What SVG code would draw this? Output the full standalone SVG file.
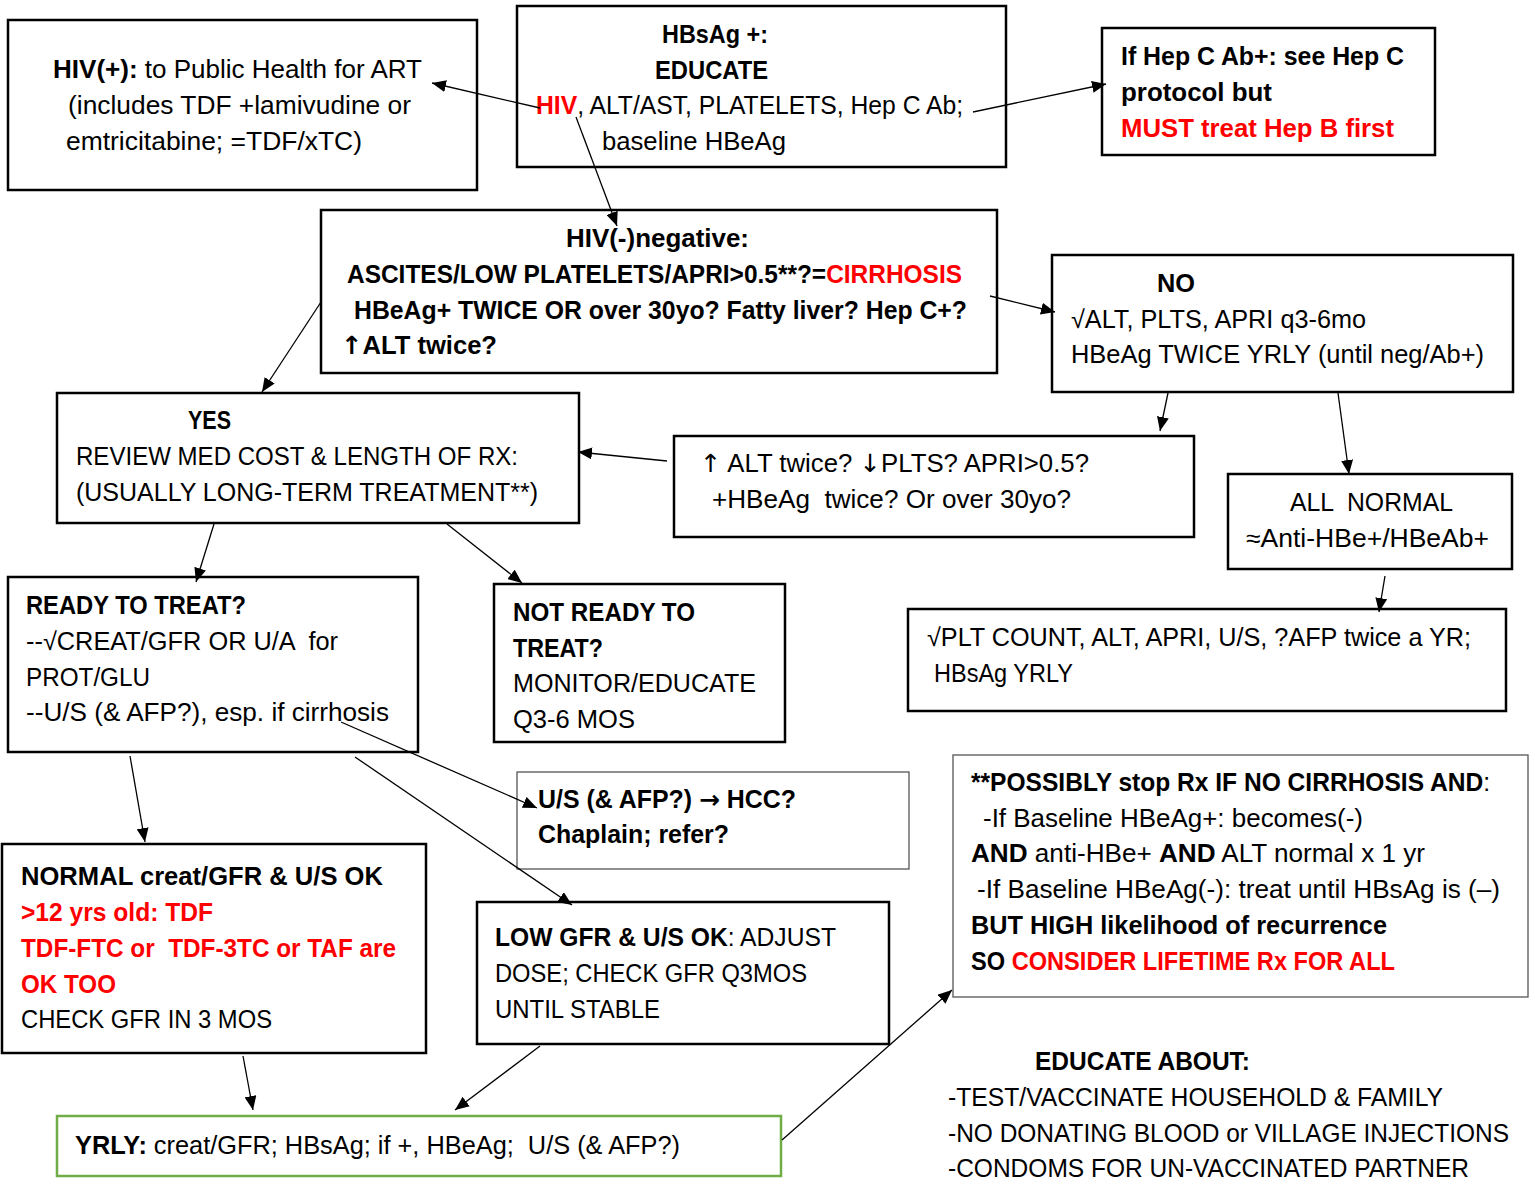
<svg xmlns="http://www.w3.org/2000/svg" width="1535" height="1184" viewBox="0 0 1535 1184">
<style>
text{font-family:"Liberation Sans",Arial,sans-serif;font-size:25px;fill:#000}
.b{font-weight:bold}
.n{font-weight:normal}
.r{fill:#ff0000}
.ar{font-family:"DejaVu Sans",sans-serif}
.box{fill:#fff;stroke:#000;stroke-width:2.5}
.thin{fill:#fff;stroke:#555;stroke-width:1.3}
.green{fill:#fff;stroke:#70ad47;stroke-width:2.5}
.c{stroke:#000;stroke-width:1.3;fill:none;marker-end:url(#ah)}
</style>
<defs>
<marker id="ah" markerUnits="userSpaceOnUse" markerWidth="15" markerHeight="12" refX="14" refY="6" orient="auto">
<path d="M0,0 L14,6 L0,12 z" fill="#000"/>
</marker>
</defs>
<rect width="1535" height="1184" fill="#fff"/>

<g id="hivpos">
<rect class="box" x="8" y="20" width="469" height="170"/>
<text x="53" y="78" textLength="369" lengthAdjust="spacingAndGlyphs"><tspan class="b">HIV(+):</tspan> to Public Health for ART</text>
<text x="68" y="114" textLength="343" lengthAdjust="spacingAndGlyphs">(includes TDF +lamivudine or</text>
<text x="66" y="150" textLength="296" lengthAdjust="spacingAndGlyphs">emtricitabine; =TDF/xTC)</text>
</g>

<g id="hbsag">
<rect class="box" x="517" y="6" width="489" height="161"/>
<text class="b" x="662" y="43" textLength="106" lengthAdjust="spacingAndGlyphs">HBsAg +:</text>
<text class="b" x="655" y="79" textLength="113" lengthAdjust="spacingAndGlyphs">EDUCATE</text>
<text x="536" y="114" textLength="427" lengthAdjust="spacingAndGlyphs"><tspan class="b r">HIV</tspan>, ALT/AST, PLATELETS, Hep C Ab;</text>
<text x="602" y="150" textLength="184" lengthAdjust="spacingAndGlyphs">baseline HBeAg</text>
</g>

<g id="hepc">
<rect class="box" x="1102" y="28" width="333" height="127"/>
<text class="b" x="1121" y="65" textLength="283" lengthAdjust="spacingAndGlyphs">If Hep C Ab+: see Hep C</text>
<text class="b" x="1121" y="101" textLength="151" lengthAdjust="spacingAndGlyphs">protocol but</text>
<text class="b r" x="1121" y="137" textLength="273" lengthAdjust="spacingAndGlyphs">MUST treat Hep B first</text>
</g>

<g id="hivneg">
<rect class="box" x="321" y="210" width="676" height="163"/>
<text class="b" x="566" y="247" textLength="183" lengthAdjust="spacingAndGlyphs">HIV(-)negative:</text>
<text class="b" x="347" y="283" textLength="615" lengthAdjust="spacingAndGlyphs">ASCITES/LOW PLATELETS/APRI&gt;0.5**?=<tspan class="r">CIRRHOSIS</tspan></text>
<text class="b" x="354" y="319" textLength="613" lengthAdjust="spacingAndGlyphs">HBeAg+ TWICE OR over 30yo? Fatty liver? Hep C+?</text>
<text class="b" x="341" y="354" textLength="156" lengthAdjust="spacingAndGlyphs"><tspan class="ar">↑</tspan>ALT twice?</text>
</g>

<g id="no">
<rect class="box" x="1052" y="255" width="461" height="137"/>
<text class="b" x="1157" y="292" textLength="38" lengthAdjust="spacingAndGlyphs">NO</text>
<text x="1071" y="328" textLength="295" lengthAdjust="spacingAndGlyphs">√ALT, PLTS, APRI q3-6mo</text>
<text x="1071" y="363" textLength="413" lengthAdjust="spacingAndGlyphs">HBeAg TWICE YRLY (until neg/Ab+)</text>
</g>

<g id="yes">
<rect class="box" x="57" y="393" width="522" height="130"/>
<text class="b" x="188" y="429" textLength="43" lengthAdjust="spacingAndGlyphs">YES</text>
<text x="76" y="465" textLength="442" lengthAdjust="spacingAndGlyphs">REVIEW MED COST &amp; LENGTH OF RX:</text>
<text x="76" y="501" textLength="462" lengthAdjust="spacingAndGlyphs">(USUALLY LONG-TERM TREATMENT**)</text>
</g>

<g id="altcheck">
<rect class="box" x="674" y="436" width="520" height="101"/>
<text x="700" y="472" textLength="389" lengthAdjust="spacingAndGlyphs"><tspan class="ar">↑</tspan> ALT twice? <tspan class="ar">↓</tspan>PLTS? APRI&gt;0.5?</text>
<text x="712" y="508" textLength="359" lengthAdjust="spacingAndGlyphs" xml:space="preserve">+HBeAg  twice? Or over 30yo?</text>
</g>

<g id="allnormal">
<rect class="box" x="1228" y="474" width="284" height="95"/>
<text x="1290" y="511" textLength="163" lengthAdjust="spacingAndGlyphs" xml:space="preserve">ALL  NORMAL</text>
<text x="1246" y="547" textLength="243" lengthAdjust="spacingAndGlyphs">≈Anti-HBe+/HBeAb+</text>
</g>

<g id="ready">
<rect class="box" x="8" y="577" width="410" height="175"/>
<text class="b" x="26" y="614" textLength="220" lengthAdjust="spacingAndGlyphs">READY TO TREAT?</text>
<text x="26" y="650" textLength="312" lengthAdjust="spacingAndGlyphs" xml:space="preserve">--√CREAT/GFR OR U/A  for</text>
<text x="26" y="686" textLength="124" lengthAdjust="spacingAndGlyphs">PROT/GLU</text>
<text x="26" y="721" textLength="363" lengthAdjust="spacingAndGlyphs">--U/S (&amp; AFP?), esp. if cirrhosis</text>
</g>

<g id="notready">
<rect class="box" x="494" y="584" width="291" height="158"/>
<text class="b" x="513" y="621" textLength="182" lengthAdjust="spacingAndGlyphs">NOT READY TO</text>
<text class="b" x="513" y="657" textLength="90" lengthAdjust="spacingAndGlyphs">TREAT?</text>
<text x="513" y="692" textLength="243" lengthAdjust="spacingAndGlyphs">MONITOR/EDUCATE</text>
<text x="513" y="728" textLength="122" lengthAdjust="spacingAndGlyphs">Q3-6 MOS</text>
</g>

<g id="pltcount">
<rect class="box" x="908" y="609" width="598" height="102"/>
<text x="927" y="646" textLength="544" lengthAdjust="spacingAndGlyphs">√PLT COUNT, ALT, APRI, U/S, ?AFP twice a YR;</text>
<text x="934" y="682" textLength="139" lengthAdjust="spacingAndGlyphs">HBsAg YRLY</text>
</g>

<g id="hcc">
<rect class="thin" x="517" y="772" width="392" height="97"/>
<text class="b" x="538" y="808" textLength="258" lengthAdjust="spacingAndGlyphs">U/S (&amp; AFP?) <tspan class="ar">→</tspan> HCC?</text>
<text class="b" x="538" y="843" textLength="191" lengthAdjust="spacingAndGlyphs">Chaplain; refer?</text>
</g>

<g id="possibly">
<rect class="thin" x="953" y="755" width="575" height="242"/>
<text class="b" x="971" y="791" textLength="519" lengthAdjust="spacingAndGlyphs">**POSSIBLY stop Rx IF NO CIRRHOSIS AND<tspan class="n">:</tspan></text>
<text x="983" y="827" textLength="380" lengthAdjust="spacingAndGlyphs">-If Baseline HBeAg+: becomes(-)</text>
<text x="971" y="862" textLength="454" lengthAdjust="spacingAndGlyphs"><tspan class="b">AND</tspan> anti-HBe+ <tspan class="b">AND</tspan> ALT normal x 1 yr</text>
<text x="977" y="898" textLength="523" lengthAdjust="spacingAndGlyphs">-If Baseline HBeAg(-): treat until HBsAg is (–)</text>
<text class="b" x="971" y="934" textLength="416" lengthAdjust="spacingAndGlyphs">BUT HIGH likelihood of recurrence</text>
<text class="b" x="971" y="970" textLength="424" lengthAdjust="spacingAndGlyphs">SO <tspan class="r">CONSIDER LIFETIME Rx FOR ALL</tspan></text>
</g>

<g id="normal">
<rect class="box" x="2" y="844" width="424" height="209"/>
<text class="b" x="21" y="885" textLength="362" lengthAdjust="spacingAndGlyphs">NORMAL creat/GFR &amp; U/S OK</text>
<text class="b r" x="21" y="921" textLength="192" lengthAdjust="spacingAndGlyphs">&gt;12 yrs old: TDF</text>
<text class="b r" x="21" y="957" textLength="375" lengthAdjust="spacingAndGlyphs" xml:space="preserve">TDF-FTC or  TDF-3TC or TAF are</text>
<text class="b r" x="21" y="993" textLength="95" lengthAdjust="spacingAndGlyphs">OK TOO</text>
<text x="21" y="1028" textLength="251" lengthAdjust="spacingAndGlyphs">CHECK GFR IN 3 MOS</text>
</g>

<g id="lowgfr">
<rect class="box" x="477" y="902" width="412" height="142"/>
<text x="495" y="946" textLength="341" lengthAdjust="spacingAndGlyphs"><tspan class="b">LOW GFR &amp; U/S OK</tspan>: ADJUST</text>
<text x="495" y="982" textLength="312" lengthAdjust="spacingAndGlyphs">DOSE; CHECK GFR Q3MOS</text>
<text x="495" y="1018" textLength="165" lengthAdjust="spacingAndGlyphs">UNTIL STABLE</text>
</g>

<g id="yrly">
<rect class="green" x="57" y="1116" width="724" height="60"/>
<text x="75" y="1154" textLength="605" lengthAdjust="spacingAndGlyphs" xml:space="preserve"><tspan class="b">YRLY:</tspan> creat/GFR; HBsAg; if +, HBeAg;  U/S (&amp; AFP?)</text>
</g>

<g id="educate">
<text class="b" x="1035" y="1070" textLength="215" lengthAdjust="spacingAndGlyphs">EDUCATE ABOUT:</text>
<text x="948" y="1106" textLength="495" lengthAdjust="spacingAndGlyphs">-TEST/VACCINATE HOUSEHOLD &amp; FAMILY</text>
<text x="948" y="1142" textLength="561" lengthAdjust="spacingAndGlyphs">-NO DONATING BLOOD or VILLAGE INJECTIONS</text>
<text x="948" y="1177" textLength="521" lengthAdjust="spacingAndGlyphs">-CONDOMS FOR UN-VACCINATED PARTNER</text>
</g>

<g id="connectors">
<line class="c" x1="540" y1="108" x2="432" y2="83"/>
<line class="c" x1="973" y1="112" x2="1106" y2="84"/>
<line class="c" x1="576" y1="117" x2="617" y2="226"/>
<line class="c" x1="321" y1="302" x2="262" y2="392"/>
<line class="c" x1="990" y1="296" x2="1055" y2="312"/>
<line class="c" x1="1168" y1="393" x2="1160" y2="431"/>
<line class="c" x1="1338" y1="393" x2="1349" y2="474"/>
<line class="c" x1="667" y1="461" x2="578" y2="452"/>
<line class="c" x1="1385" y1="576" x2="1379" y2="612"/>
<line class="c" x1="214" y1="524" x2="196" y2="582"/>
<line class="c" x1="447" y1="524" x2="522" y2="583"/>
<line class="c" x1="341" y1="722" x2="537" y2="808"/>
<line class="c" x1="355" y1="757" x2="572" y2="905"/>
<line class="c" x1="130" y1="756" x2="145" y2="842"/>
<line class="c" x1="243" y1="1056" x2="253" y2="1110"/>
<line class="c" x1="540" y1="1046" x2="455" y2="1110"/>
<line class="c" x1="782" y1="1140" x2="952" y2="990"/>
</g>
</svg>
